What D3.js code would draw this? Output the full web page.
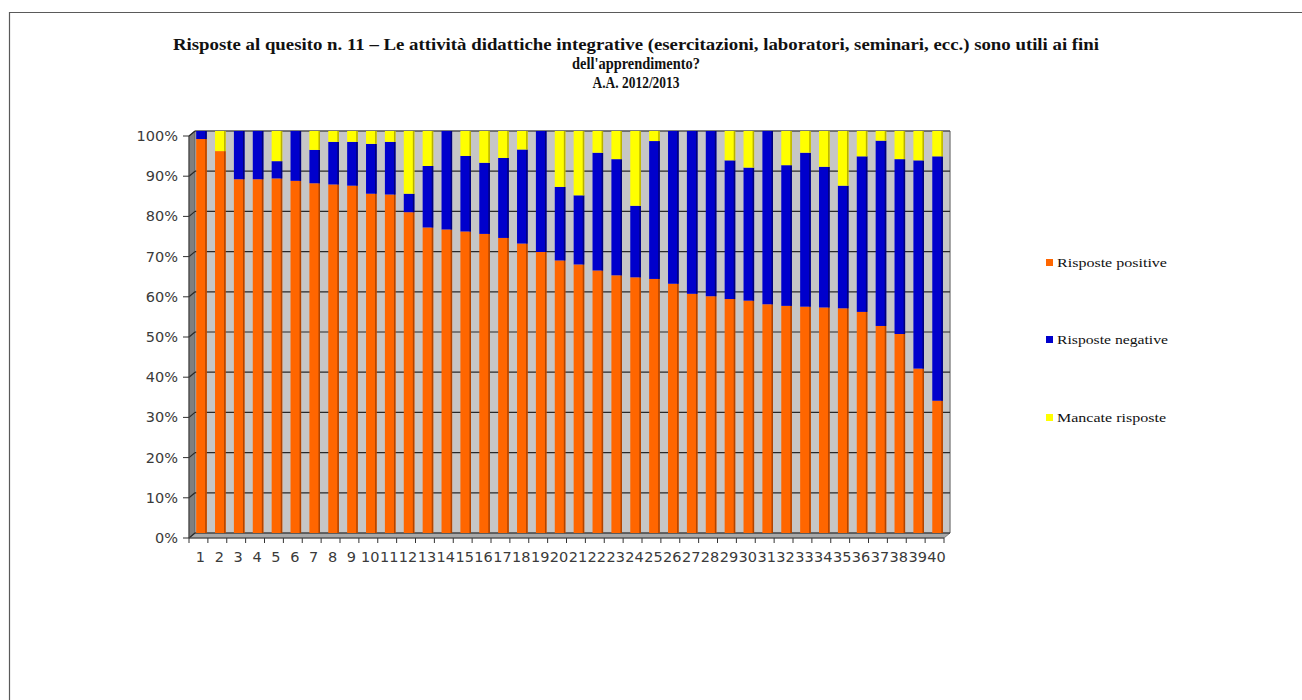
<!DOCTYPE html>
<html>
<head>
<meta charset="utf-8">
<script src="https://cdn.jsdelivr.net/npm/d3@7"></script>
<style>
  html, body { margin: 0; padding: 0; background: #ffffff; }
  svg { display: block; }
</style>
</head>
<body>
<svg id="chart" width="1302" height="700"></svg>
<script>
// ---- data (percentages) ----
const categories = d3.range(1, 41).map(String);
const positive = [98, 95, 88, 88, 88.2, 87.6, 87, 86.7, 86.4, 84.4,
                  84.2, 79.8, 76, 75.5, 75, 74.4, 73.4, 72, 69.9, 67.8,
                  66.8, 65.3, 64.1, 63.6, 63.2, 62, 59.5, 58.9, 58.2, 57.8,
                  56.9, 56.5, 56.3, 56.1, 55.9, 55, 51.5, 49.5, 40.9, 32.9];
const negative = [2, 0, 12, 12, 4.3, 12.4, 8.3, 10.6, 10.9, 12.4,
                  13.1, 4.6, 15.3, 24.5, 18.8, 17.7, 19.9, 23.4, 30.1, 18.3,
                  17.2, 29.3, 28.9, 17.8, 34.3, 38, 40.5, 41.1, 34.5, 33.1,
                  43.1, 35, 38.3, 35, 30.5, 38.7, 46.1, 43.5, 51.8, 60.8];
const missing  = [0, 5, 0, 0, 7.5, 0, 4.7, 2.7, 2.7, 3.2,
                  2.7, 15.6, 8.7, 0, 6.2, 7.9, 6.7, 4.6, 0, 13.9,
                  16, 5.4, 7, 18.6, 2.5, 0, 0, 0, 7.3, 9.1,
                  0, 8.5, 5.4, 8.9, 13.6, 6.3, 2.4, 7, 7.3, 6.3];
const seriesNames = ["Risposte positive", "Risposte negative", "Mancate risposte"];
const seriesKeys = ["pos", "neg", "miss"];
const yTicks = [0, 10, 20, 30, 40, 50, 60, 70, 80, 90, 100];
const titleLines = [
  "Risposte al quesito n. 11 \u2013 Le attivit\u00e0 didattiche integrative (esercitazioni, laboratori, seminari, ecc.) sono utili ai fini",
  "dell'apprendimento?",
  "A.A. 2012/2013"
];

// ---- table for the stack ----
const table = categories.map((c, i) => ({cat: c, pos: positive[i], neg: negative[i], miss: missing[i]}));
const stacked = d3.stack().keys(seriesKeys)(table);

const colors = {pos: "#FF6600", neg: "#0000CC", miss: "#FFFF00"};
const sideColors = {pos: "#B04400", neg: "#00007A", miss: "#B8B000"};

const svg = d3.select("#chart");

// outer frame
svg.append("path").attr("d", "M9.5,700 L9.5,12.5 L1302,12.5")
  .attr("fill", "none").attr("stroke", "#5a5a5a").attr("stroke-width", 1.2);

// ---- geometry ----
const backLeft = 195, backRight = 950, depthX = 6, depthY = 5;
const frontLeft = backLeft - depthX, frontRight = backRight - depthX;
const y = d3.scaleLinear().domain([0, 100]).range([533, 131]);
const x = d3.scaleBand().domain(categories).range([192, 947]).paddingInner(0.44).paddingOuter(0.22);
const xFront = d3.scaleBand().domain(categories).range([frontLeft, frontRight]);

// back wall
svg.append("rect").attr("x", backLeft).attr("y", y(100))
  .attr("width", backRight - backLeft).attr("height", y(0) - y(100))
  .attr("fill", "#C6C6C6");
svg.append("line").attr("x1", backRight).attr("x2", backRight).attr("y1", y(100)).attr("y2", y(0))
  .attr("stroke", "#8a8a8a").attr("stroke-width", 1.5);
svg.append("line").attr("x1", backLeft).attr("x2", backRight).attr("y1", y(100)).attr("y2", y(100))
  .attr("stroke", "#9a9a9a").attr("stroke-width", 1);

// left side wall
svg.append("polygon")
  .attr("points", [[frontLeft, y(100) + depthY], [backLeft, y(100)], [backLeft, y(0)], [frontLeft, y(0) + depthY]].join(" "))
  .attr("fill", "#7f7f7f").attr("stroke", "#555").attr("stroke-width", 0.8);

// floor
svg.append("polygon")
  .attr("points", [[frontLeft, y(0) + depthY], [backLeft, y(0)], [backRight, y(0)], [frontRight, y(0) + depthY]].join(" "))
  .attr("fill", "#A8A8A8").attr("stroke", "#666").attr("stroke-width", 0.8);

// gridlines (back wall + side wall)
const grid = svg.append("g");
yTicks.forEach(t => {
  grid.append("line").attr("x1", backLeft).attr("x2", backRight).attr("y1", y(t)).attr("y2", y(t))
    .attr("stroke", "#2a2a2a").attr("stroke-width", 1.2);
  grid.append("line").attr("x1", frontLeft).attr("x2", backLeft).attr("y1", y(t) + depthY).attr("y2", y(t))
    .attr("stroke", "#2a2a2a").attr("stroke-width", 1.2);
});

// bars
const bars = svg.append("g");
stacked.forEach(layer => {
  const k = layer.key;
  const g = bars.append("g");
  g.selectAll("rect.face").data(layer.filter(d => d[1] - d[0] > 0)).join("rect")
    .attr("class", "face")
    .attr("x", d => x(d.data.cat))
    .attr("y", d => y(d[1]))
    .attr("width", x.bandwidth())
    .attr("height", d => y(d[0]) - y(d[1]))
    .attr("fill", colors[k]);
  g.selectAll("rect.side").data(layer.filter(d => d[1] - d[0] > 0)).join("rect")
    .attr("class", "side")
    .attr("x", d => x(d.data.cat) + x.bandwidth() - 1.5)
    .attr("y", d => y(d[1]))
    .attr("width", 1.5)
    .attr("height", d => y(d[0]) - y(d[1]))
    .attr("fill", sideColors[k]);
});

// front vertical axis line
svg.append("line").attr("x1", frontLeft).attr("x2", frontLeft).attr("y1", y(100) + depthY).attr("y2", y(0) + depthY)
  .attr("stroke", "#444").attr("stroke-width", 1);

// y axis ticks and labels
const yAxisG = svg.append("g");
yTicks.forEach(t => {
  yAxisG.append("line").attr("x1", frontLeft - 6).attr("x2", frontLeft).attr("y1", y(t) + depthY).attr("y2", y(t) + depthY)
    .attr("stroke", "#333").attr("stroke-width", 1);
  yAxisG.append("text").attr("x", 178).attr("y", y(t) + depthY + 5)
    .attr("text-anchor", "end")
    .attr("font-family", "DejaVu Sans, Verdana, sans-serif").attr("font-size", 14.5)
    .attr("fill", "#3a3a3a").text(t + "%");
});

// x axis ticks and labels
const xAxisG = svg.append("g");
svg.append("line").attr("x1", frontLeft).attr("x2", frontRight).attr("y1", y(0) + depthY).attr("y2", y(0) + depthY)
  .attr("stroke", "#444").attr("stroke-width", 1);
categories.concat(["end"]).forEach((c, i) => {
  const xx = frontLeft + i * xFront.step();
  xAxisG.append("line").attr("x1", xx).attr("x2", xx).attr("y1", y(0) + depthY).attr("y2", y(0) + depthY + 5)
    .attr("stroke", "#333").attr("stroke-width", 1);
});
categories.forEach(c => {
  xAxisG.append("text").attr("x", xFront(c) + xFront.bandwidth() / 2 + 2).attr("y", 562)
    .attr("text-anchor", "middle")
    .attr("font-family", "DejaVu Sans, Verdana, sans-serif").attr("font-size", 14.5)
    .attr("fill", "#3a3a3a").text(c);
});

// title
const titleY = [50, 69, 88];
const titleW = [926, 128, 87];
titleLines.forEach((t, i) => {
  svg.append("text").attr("x", 636).attr("y", titleY[i])
    .attr("text-anchor", "middle")
    .attr("font-family", "'Liberation Serif', serif").attr("font-weight", "bold").attr("font-size", 16.5)
    .attr("textLength", titleW[i]).attr("lengthAdjust", "spacingAndGlyphs")
    .attr("fill", "#111").text(t);
});

// legend
const legendY = [263, 340, 418];
const legendW = [110, 111, 109];
seriesKeys.forEach((k, i) => {
  svg.append("rect").attr("x", 1046).attr("y", legendY[i] - 4).attr("width", 7).attr("height", 7).attr("fill", colors[k]);
  svg.append("text").attr("x", 1057).attr("y", legendY[i] + 3.5)
    .attr("font-family", "'Liberation Serif', serif").attr("font-size", 12.5)
    .attr("textLength", legendW[i]).attr("lengthAdjust", "spacingAndGlyphs")
    .attr("fill", "#111").text(seriesNames[i]);
});
</script>
</body>
</html>
